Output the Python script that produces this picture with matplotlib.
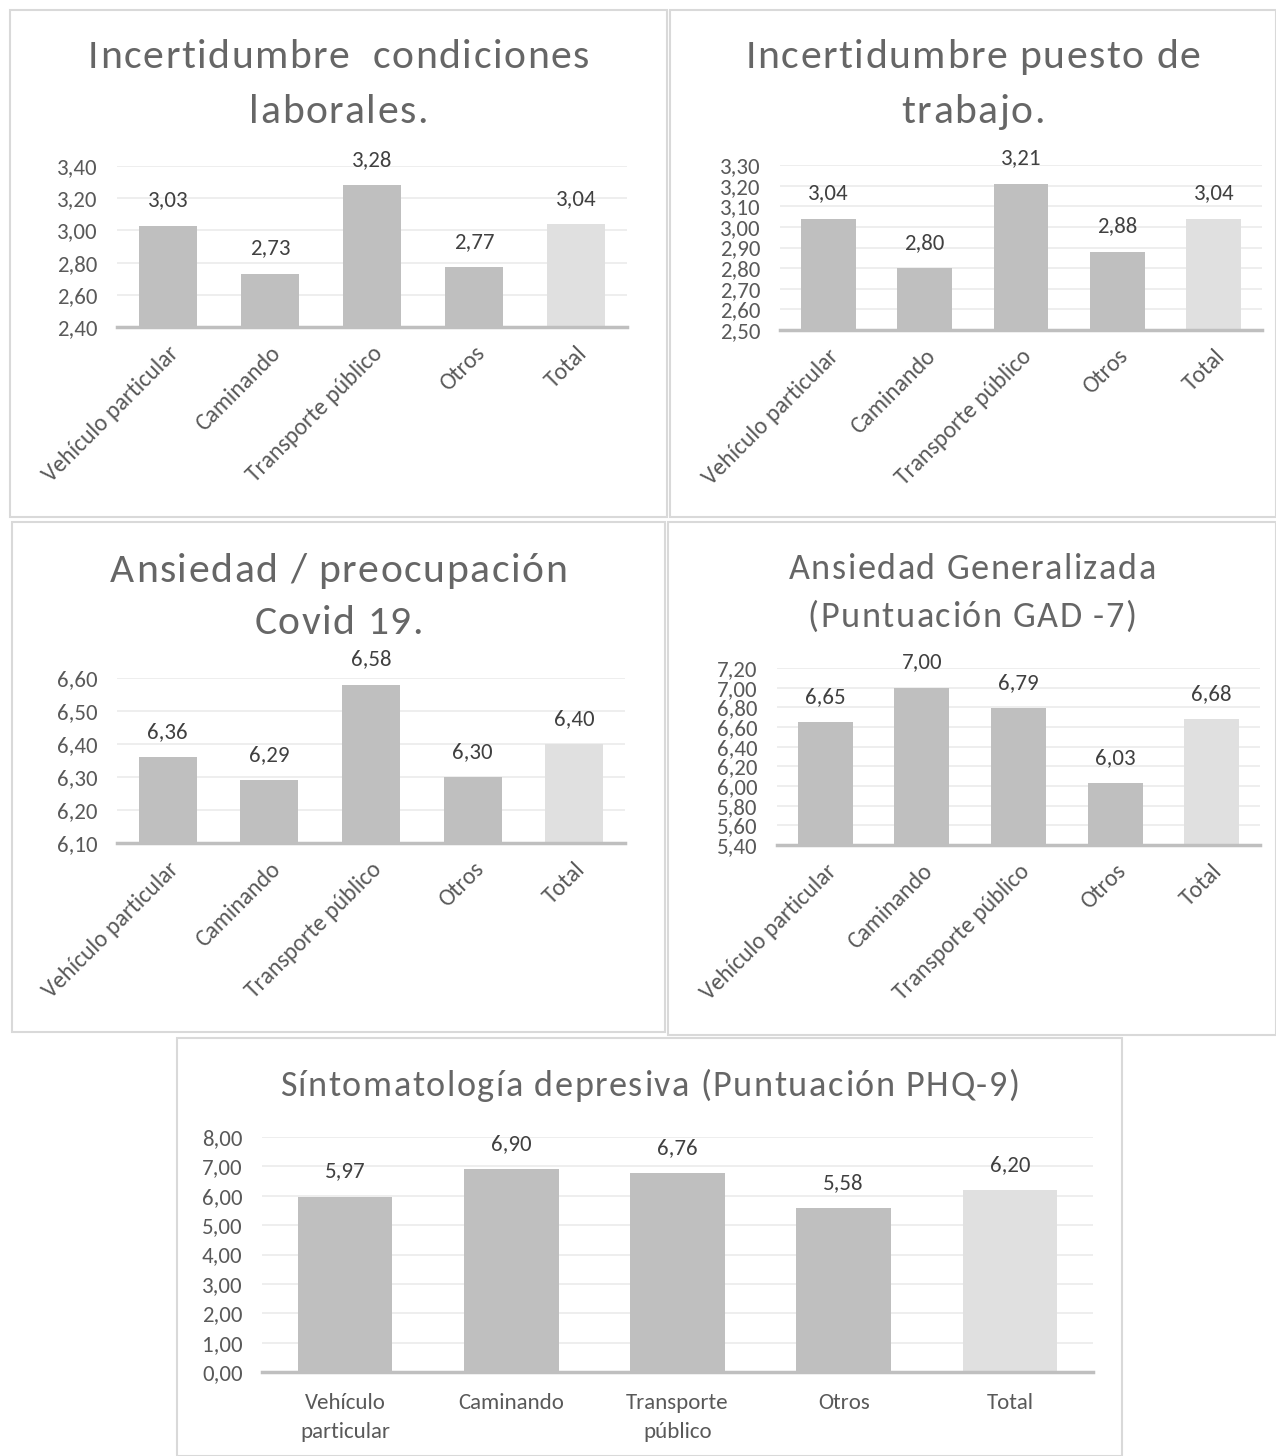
import matplotlib
matplotlib.use("Agg")
import matplotlib.pyplot as plt
from matplotlib.patches import Rectangle
from matplotlib.font_manager import FontProperties
import numpy as np

# ---- data ----
categories = ["Vehículo particular", "Caminando", "Transporte público", "Otros", "Total"]
categories_wrapped = ["Vehículo\nparticular", "Caminando", "Transporte\npúblico", "Otros", "Total"]

incert_condiciones = [3.03, 2.73, 3.28, 2.77, 3.04]
incert_puesto = [3.04, 2.80, 3.21, 2.88, 3.04]
ansiedad_covid = [6.36, 6.29, 6.58, 6.30, 6.40]
gad7 = [6.65, 7.00, 6.79, 6.03, 6.68]
phq9 = [5.97, 6.90, 6.76, 5.58, 6.20]

ticks_condiciones = [2.40, 2.60, 2.80, 3.00, 3.20, 3.40]
ticks_puesto = [2.50, 2.60, 2.70, 2.80, 2.90, 3.00, 3.10, 3.20, 3.30]
ticks_covid = [6.10, 6.20, 6.30, 6.40, 6.50, 6.60]
ticks_gad7 = [5.40, 5.60, 5.80, 6.00, 6.20, 6.40, 6.60, 6.80, 7.00, 7.20]
ticks_phq9 = [0, 1, 2, 3, 4, 5, 6, 7, 8]

W, H = 1276, 1456
BAR = "#BFBFBF"
BAR_TOTAL = "#E0E0E0"
TXT = "#595959"
TITLE = "#666666"
LBL = "#404040"
GRID = "#EBEBEB"
BORDER = "#D9D9D9"

fam = ["Carlito", "DejaVu Sans"]
plt.rcParams["font.family"] = fam

fig = plt.figure(figsize=(W / 100, H / 100), dpi=100)
fig.patch.set_facecolor("white")
renderer = fig.canvas.get_renderer()


def fx(px):
    return px / W


def fy(py):
    return 1 - py / H


def frame(x0, y0, x1, y1):
    fig.patches.append(Rectangle((fx(x0), fy(y1)), fx(x1 - x0), (y1 - y0) / H,
                                 transform=fig.transFigure, fill=False,
                                 edgecolor=BORDER, linewidth=1.5))


def fmt(v):
    return f"{v:.2f}".replace(".", ",")


def text_width(s, prop):
    if not s:
        return 0.0
    w, _, _ = renderer.get_text_width_height_descent(s, prop, ismath=False)
    return w


def spaced_title(cx, cy, s, size, spacing):
    """Centered title with extra tracking between characters (pixel units)."""
    prop = FontProperties(family=fam, size=size)
    total = text_width(s, prop) + spacing * (len(s) - 1)
    left = cx - total / 2
    for i, ch in enumerate(s):
        if ch == " ":
            continue
        xpos = left + text_width(s[:i], prop) + spacing * i
        fig.text(fx(xpos), fy(cy), ch, ha="left", va="center",
                 fontproperties=prop, color=TITLE)


def panel(box, title_lines, title_y, title_size, ax_box, values, ticks, labels,
          rotate=True, label_off=11):
    frame(*box)
    cx = (box[0] + box[2]) / 2
    for line, ty in zip(title_lines, title_y):
        spaced_title(cx, ty, line, title_size, 1.55)
    x0, y0, x1, y1 = ax_box
    ax = fig.add_axes([fx(x0), fy(y1), fx(x1 - x0), (y1 - y0) / H])
    x = np.arange(len(values))
    colors = [BAR] * (len(values) - 1) + [BAR_TOTAL]
    bars = ax.bar(x, values, width=0.57, color=colors, zorder=2)
    ax.set_ylim(ticks[0], ticks[-1])
    ax.set_xlim(-0.5, len(values) - 0.5)
    ax.set_yticks(ticks)
    ax.set_yticklabels([fmt(t) for t in ticks], fontsize=16.5, color=TXT)
    ax.yaxis.grid(True, color=GRID, linewidth=1.2, zorder=0)
    ax.set_axisbelow(True)
    for s in ["top", "right", "left"]:
        ax.spines[s].set_visible(False)
    ax.spines["bottom"].set_color(BAR)
    ax.spines["bottom"].set_linewidth(2.5)
    ax.spines["bottom"].set_zorder(3)
    ax.tick_params(axis="both", length=0)
    ax.tick_params(axis="y", pad=14)
    ax.set_xticks(x)
    if rotate:
        ax.set_xticklabels(labels, rotation=45, ha="right", rotation_mode="anchor",
                           fontsize=17, color=TXT)
        ax.tick_params(axis="x", pad=11)
    else:
        ax.set_xticklabels(labels, fontsize=16.5, color=TXT, linespacing=1.6)
        ax.tick_params(axis="x", pad=15)
    for b, v in zip(bars, values):
        ax.annotate(fmt(v), (b.get_x() + b.get_width() / 2, v), xytext=(0, label_off),
                    textcoords="offset points", ha="center", va="bottom",
                    fontsize=16.5, color=LBL)
    ax.patch.set_alpha(0)
    return ax


panel((10, 10, 667, 517), ["Incertidumbre  condiciones", "laborales."], [57, 112], 30,
      (117, 166, 627, 327), incert_condiciones, ticks_condiciones, categories)
panel((670, 10, 1276, 517), ["Incertidumbre puesto de", "trabajo."], [57, 112], 30,
      (780, 165, 1262, 330), incert_puesto, ticks_puesto, categories)
panel((12, 522, 665, 1032), ["Ansiedad / preocupación", "Covid 19."], [571, 623], 30,
      (117, 678, 625, 843), ansiedad_covid, ticks_covid, categories)
panel((668, 522, 1276, 1035), ["Ansiedad Generalizada", "(Puntuación GAD -7)"], [569, 617], 26,
      (777, 668, 1260, 845), gad7, ticks_gad7, categories)
panel((177, 1038, 1122, 1456), ["Síntomatología depresiva (Puntuación PHQ-9)"], [1086], 26,
      (262, 1137, 1093, 1372), phq9, ticks_phq9, categories_wrapped, rotate=False)

fig.savefig("out.png", dpi=100, facecolor="white")
